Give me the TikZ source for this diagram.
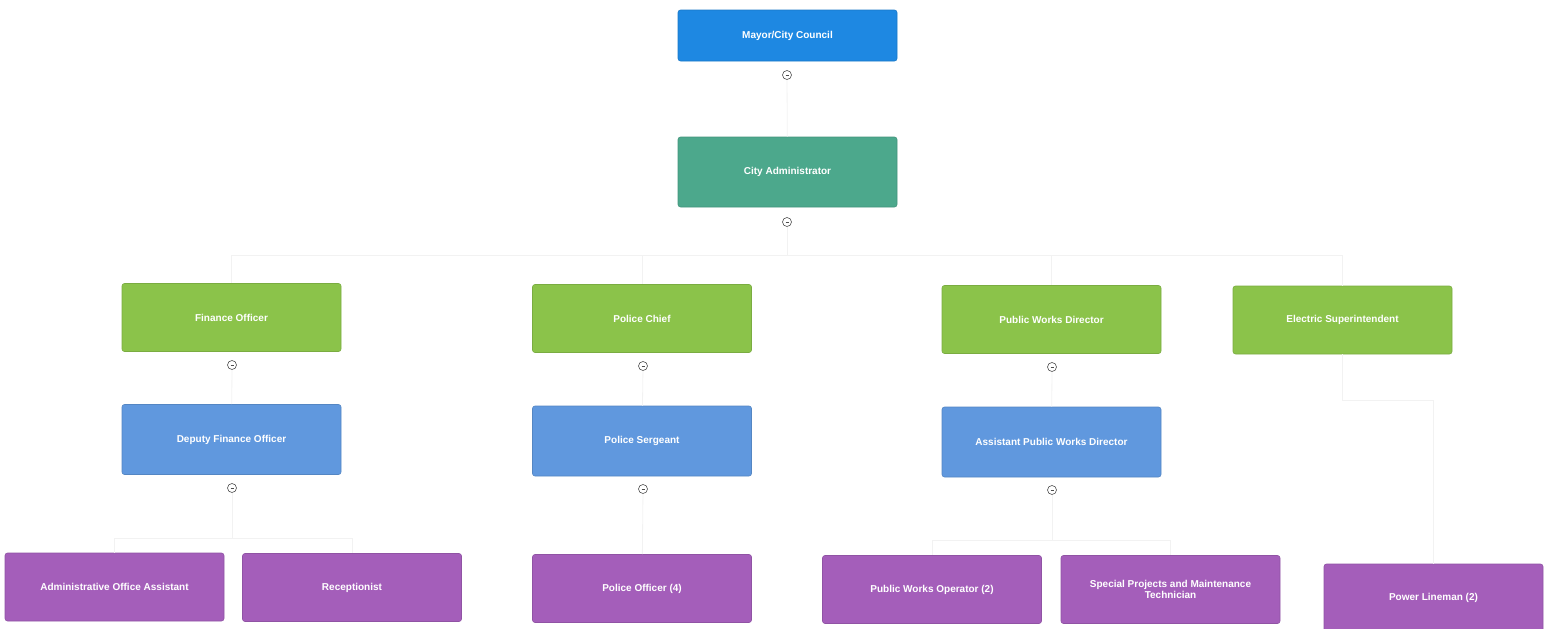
\documentclass[tikz,border=0pt]{standalone}
\usepackage{fontspec}
\setmainfont{Liberation Sans}
\definecolor{cmayor}{RGB}{30,136,226}
\definecolor{cadmin}{RGB}{76,168,140}
\definecolor{cgreen}{RGB}{139,195,74}
\definecolor{cblue}{RGB}{96,152,222}
\definecolor{cpurple}{RGB}{164,94,186}
\begin{document}
\begin{tikzpicture}[x=1pt,y=-1pt,
  box/.style={rectangle, rounded corners=2.5pt, minimum width=219pt, minimum height=68pt, inner sep=2pt,
    text=white, font=\fontsize{10}{11}\selectfont\bfseries, align=center, draw=#1!88!black, line width=0.6pt, fill=#1},
  icon/.style={circle, draw=black!70, line width=0.6pt, minimum size=9pt, inner sep=0pt,
    path picture={\draw[black!70, line width=0.5pt] ([xshift=-1.5pt]path picture bounding box.center) -- ([xshift=1.5pt]path picture bounding box.center);}},
  conn/.style={draw=black!5, line width=0.8pt}]
\useasboundingbox (0,0) rectangle (1551,629);

% level 0-1
\node[box=cmayor, minimum height=51pt] (mayor) at (787.5,35.5) {Mayor/City Council};
\node[icon] (ic0) at (787,75) {};
\node[box=cadmin, minimum height=70pt] (admin) at (787.5,172) {City Administrator};
\node[icon] (ic1) at (787,222) {};

% level 2
\node[box=cgreen] (fin) at (231.5,317.5) {Finance Officer};
\node[icon] (ic2) at (232,365) {};
\node[box=cgreen] (pc) at (642,318.5) {Police Chief};
\node[icon] (ic3) at (643,366) {};
\node[box=cgreen] (pwd) at (1051.5,319.5) {Public Works Director};
\node[icon] (ic4) at (1052,367) {};
\node[box=cgreen] (es) at (1342.5,320) {Electric Superintendent};

% level 3
\node[box=cblue, minimum height=70pt] (dfo) at (231.5,439.5) {Deputy Finance Officer};
\node[icon] (ic5) at (232,488) {};
\node[box=cblue, minimum height=70pt] (ps) at (642,441) {Police Sergeant};
\node[icon] (ic6) at (643,489) {};
\node[box=cblue, minimum height=70pt] (apwd) at (1051.5,442) {Assistant Public Works Director};
\node[icon] (ic7) at (1052,490) {};

% level 4
\node[box=cpurple] (aoa) at (114.5,587) {Administrative Office Assistant};
\node[box=cpurple] (rec) at (352,587.5) {Receptionist};
\node[box=cpurple] (po) at (642,588.5) {Police Officer (4)};
\node[box=cpurple] (pwo) at (932,589.5) {Public Works Operator (2)};
\node[box=cpurple] (spm) at (1170.5,589.5) {Special Projects and Maintenance\\Technician};
\node[box=cpurple] (pl) at (1433.5,598) {Power Lineman (2)};

% connectors
\draw[conn] (ic0) -- (admin);
\draw[conn] (ic1) -- (ic1 |- 0,255) -| (fin);
\draw[conn] (ic1) -- (ic1 |- 0,255) -| (pc);
\draw[conn] (ic1) -- (ic1 |- 0,255) -| (pwd);
\draw[conn] (ic1) -- (ic1 |- 0,255) -| (es);
\draw[conn] (ic2) -- (dfo);
\draw[conn] (ic3) -- (ps);
\draw[conn] (ic4) -- (apwd);
\draw[conn] (ic5) -- (ic5 |- 0,538) -| (aoa);
\draw[conn] (ic5) -- (ic5 |- 0,538) -| (rec);
\draw[conn] (ic6) -- (po);
\draw[conn] (ic7) -- (ic7 |- 0,540) -| (pwo);
\draw[conn] (ic7) -- (ic7 |- 0,540) -| (spm);
\draw[conn] (es) -- (es |- 0,400) -| (pl);
\end{tikzpicture}
\end{document}
